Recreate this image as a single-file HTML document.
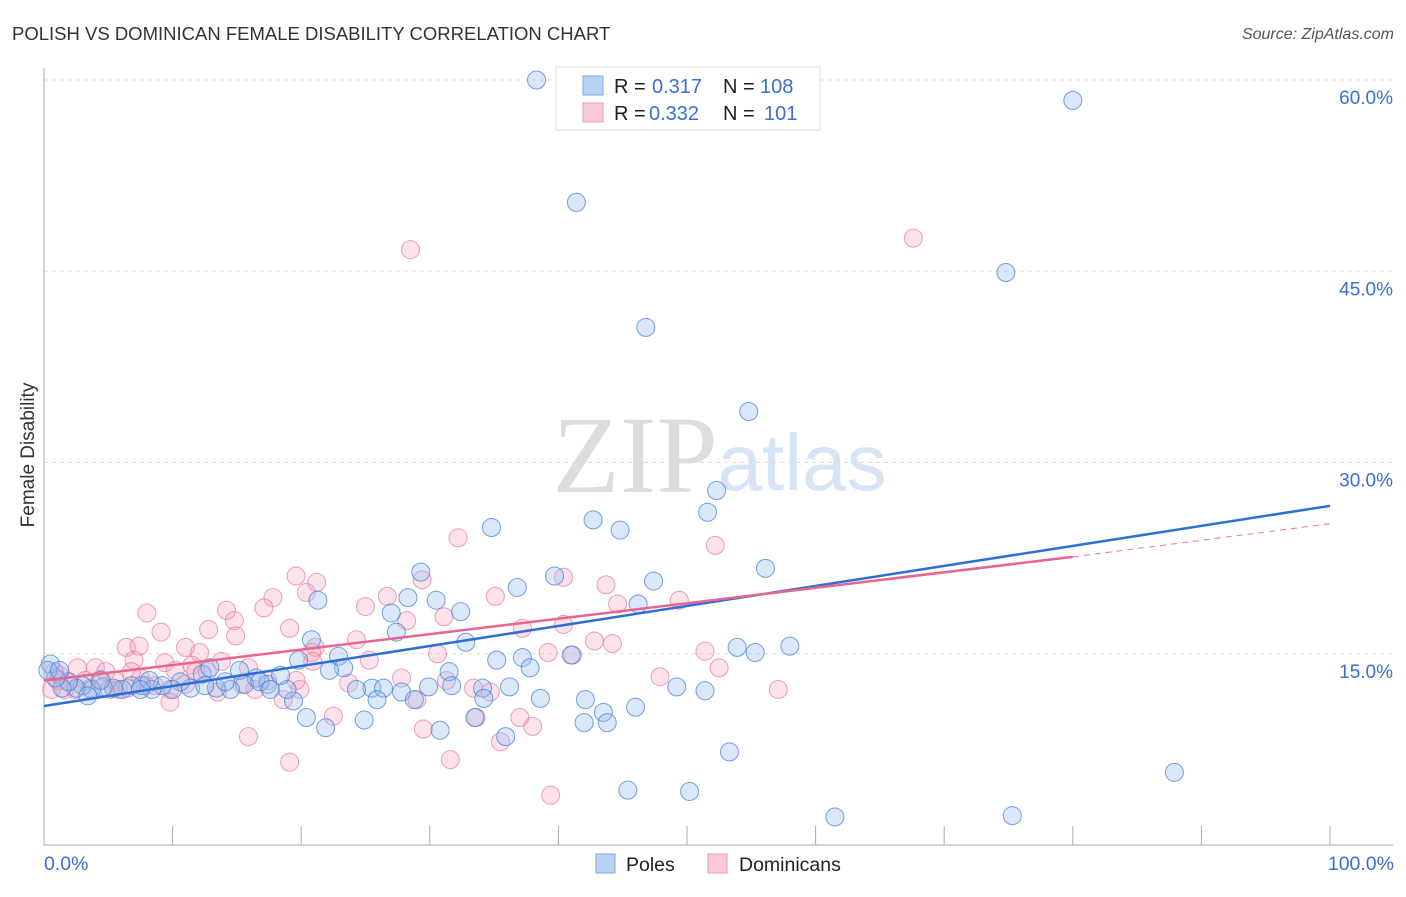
<!DOCTYPE html>
<html><head><meta charset="utf-8"><style>
body{margin:0;background:#fff;font-family:"Liberation Sans",sans-serif}
</style></head><body>
<svg width="1406" height="892" viewBox="0 0 1406 892" id="c" xmlns="http://www.w3.org/2000/svg">
<text x="12" y="40" font-size="18.5" fill="#333">POLISH VS DOMINICAN FEMALE DISABILITY CORRELATION CHART</text>
<text x="1394" y="39" font-size="16" fill="#555" font-style="italic" text-anchor="end">Source: ZipAtlas.com</text>
<text x="34" y="455" font-size="19" fill="#333" text-anchor="middle" transform="rotate(-90 34 455)">Female Disability</text>
<g>
<text x="635" y="492" font-size="110" font-family="Liberation Serif,serif" fill="#ddd" text-anchor="middle">ZIP</text>
<text x="802" y="490" font-size="80" fill="#d6e4f5" text-anchor="middle">atlas</text>
</g>
<g id="grid"></g><g id="pts"></g><g id="lines"></g>
<g>
<rect x="556" y="67" width="264" height="63" fill="#fff" stroke="#ddd"/>
<rect x="583" y="76" width="20" height="19" fill="#b9d3f5" stroke="#7fa8e0"/>
<rect x="583" y="103" width="20" height="19" fill="#fbc8d6" stroke="#ee9ab2"/>
<text y="93" font-size="20" fill="#222"><tspan x="614">R =</tspan><tspan x="652" fill="#3a6fd0">0.317</tspan><tspan x="723">N =</tspan><tspan x="760" fill="#3a6fd0">108</tspan></text>
<text y="120" font-size="20" fill="#222"><tspan x="614">R =</tspan><tspan x="649" fill="#3a6fd0">0.332</tspan><tspan x="723">N =</tspan><tspan x="764" fill="#3a6fd0">101</tspan></text>
</g>
<g>
<rect x="596" y="854" width="19" height="19" fill="#b9d3f5" stroke="#7fa8e0"/>
<text x="626" y="871" font-size="19.5" fill="#222">Poles</text>
<rect x="708" y="854" width="19" height="19" fill="#fbc8d6" stroke="#ee9ab2"/>
<text x="739" y="871" font-size="19.5" fill="#222">Dominicans</text>
</g>
</svg>
<script>
const yTicks=[15,30,45,60];
const yTickLabels=["15.0%","30.0%","45.0%","60.0%"];
const xTickLabels=["0.0%","100.0%"];
const polesX=[38.3,80.0,41.4,74.8,46.8,54.8,52.3,51.6,42.7,44.8,34.8,56.1,39.7,47.4,29.3,36.8,30.5,32.4,21.3,27.0,28.3,46.2,27.4,32.8,20.8,22.9,19.8,23.3,22.2,35.2,37.2,37.8,41.0,53.9,55.3,58.0,31.5,31.7,34.1,36.2,34.2,49.2,51.4,38.6,42.1,25.5,26.4,24.3,27.8,28.8,29.9,25.9,24.9,20.4,21.9,30.8,33.5,35.9,43.5,43.8,46.0,42.0,53.3,45.4,50.2,61.5,75.3,87.9,19.4,18.9,17.4,16.5,18.4,15.6,14.5,13.4,12.3,11.4,10.6,10.0,9.2,8.4,7.6,6.8,6.1,5.4,4.6,3.7,3.0,2.5,1.9,1.4,0.9,0.5,0.3,12.9,15.2,16.8,12.5,14.1,8.2,7.5,17.6,3.4,1.2,4.4];
const polesY=[60.0,58.4,50.4,44.9,40.6,34.0,27.8,26.1,25.5,24.7,24.9,21.7,21.1,20.7,21.4,20.2,19.2,18.3,19.2,18.2,19.4,18.9,16.7,15.9,16.1,14.8,14.5,13.9,13.7,14.5,14.7,13.9,14.9,15.5,15.1,15.6,13.6,12.5,12.3,12.4,11.5,12.4,12.1,11.5,11.4,12.3,12.3,12.2,12.0,11.4,12.4,11.4,9.8,10.0,9.2,9.0,10.0,8.5,10.4,9.6,10.8,9.6,7.3,4.3,4.2,2.2,2.3,5.7,11.3,12.2,12.6,13.1,13.3,12.6,12.2,12.3,13.4,12.3,12.8,12.2,12.5,12.2,12.5,12.5,12.2,12.3,12.4,12.2,12.5,12.3,12.8,12.3,13.1,14.2,13.7,13.9,13.7,12.8,12.5,12.8,12.9,12.2,12.2,11.7,13.7,12.9];
const domX=[28.5,67.6,52.2,32.2,40.4,19.6,21.2,20.4,29.4,26.7,35.1,43.7,49.4,44.6,17.8,25.0,17.1,14.2,14.8,8.0,28.2,31.1,40.4,14.9,12.8,9.1,19.1,24.3,37.2,42.8,44.2,6.4,7.4,11.0,12.1,21.1,20.8,39.2,41.1,30.6,51.4,52.5,25.3,7.0,9.4,10.2,11.5,13.8,15.9,19.6,20.9,4.0,2.6,1.9,1.2,0.8,0.6,3.2,4.4,5.5,5.8,6.5,7.5,8.6,9.8,11.0,11.8,12.7,13.5,15.4,16.4,17.4,18.6,19.9,47.9,57.1,31.3,33.4,34.7,27.8,23.7,22.5,29.0,33.6,37.0,38.0,29.5,15.9,19.1,31.6,39.4,35.5,9.8,5.1,2.4,1.6,1.1,3.6,4.8,6.8,7.9];
const domY=[46.7,47.6,23.5,24.1,21.0,21.1,20.6,19.8,20.8,19.5,19.5,20.4,19.2,18.9,19.4,18.7,18.6,18.4,17.6,18.2,17.6,17.9,17.3,16.4,16.9,16.7,17.0,16.1,17.0,16.0,15.8,15.5,15.6,15.5,15.1,15.5,15.1,15.1,14.9,15.0,15.2,13.9,14.5,14.5,14.3,13.7,14.1,14.4,13.9,12.9,14.4,13.9,13.9,12.8,13.3,13.6,12.2,12.9,13.0,12.9,12.2,12.3,13.1,12.5,12.2,12.6,13.6,13.6,12.0,12.6,12.2,12.9,11.4,12.2,13.2,12.2,12.9,12.3,12.0,13.1,12.7,10.1,11.4,10.0,10.0,9.3,9.1,8.5,6.5,6.7,3.9,8.1,11.2,12.2,12.2,12.2,12.9,12.3,13.6,13.6,12.5];
const polesLine=[10.9,26.6];
const domLine=[12.9,22.6,25.2];
const NS="http://www.w3.org/2000/svg";
const X=v=>44+v*12.86, Y=v=>845-v*12.75;
function mk(tag,attrs,parent){const e=document.createElementNS(NS,tag);for(const k in attrs)e.setAttribute(k,attrs[k]);parent.appendChild(e);return e;}
const g=document.getElementById('grid');
yTicks.forEach((t,i)=>{
 const l=mk('line',{x1:44,x2:1393,y1:Y(t),y2:Y(t),stroke:'#ddd','stroke-dasharray':'4,4'},g);
 
 
 const tx=mk('text',{x:1393,y:Y(t)+24,'font-size':19,fill:'#3a6fd0','text-anchor':'end'},g);
 tx.textContent=yTickLabels[i];
 
 
});
const ax=mk('line',{x1:44,x2:44,y1:68,y2:845,stroke:'#aaa'},g);


const bx=mk('line',{x1:44,x2:1393,y1:845,y2:845,stroke:'#aaa'},g);


for(let i=1;i<=10;i++){const t=mk('line',{x1:X(i*10),x2:X(i*10),y1:826,y2:845,stroke:'#aaa'},g);
 
 }
[[0,'start',44],[100,'end',1394]].forEach((d,i)=>{const t=mk('text',{x:d[2],y:870,'font-size':19.5,fill:'#3a6fd0','text-anchor':d[1]},g);t.textContent=xTickLabels[i];
 
 });
const p=document.getElementById('pts');
domX.forEach((x,i)=>{const c=mk('circle',{cx:X(x),cy:Y(domY[i]),r:9,fill:'rgba(245,160,185,0.3)',stroke:'rgba(232,120,155,0.7)','stroke-width':1},p);
 
 });
polesX.forEach((x,i)=>{const c=mk('circle',{cx:X(x),cy:Y(polesY[i]),r:9,fill:'rgba(150,190,240,0.35)',stroke:'rgba(70,130,215,0.75)','stroke-width':1},p);
 
 });
const L=document.getElementById('lines');
const dl=mk('line',{x1:X(80),y1:Y(domLine[1]),x2:X(100),y2:Y(domLine[2]),stroke:'#e87a9c','stroke-width':1,'stroke-dasharray':'6,5'},L);


const bl=mk('line',{x1:X(0),y1:Y(polesLine[0]),x2:X(100),y2:Y(polesLine[1]),stroke:'#2e6fd6','stroke-width':2.5},L);


const pl=mk('line',{x1:X(0),y1:Y(domLine[0]),x2:X(80),y2:Y(domLine[1]),stroke:'#e8658e','stroke-width':2.5},L);


</script>
</body></html>
